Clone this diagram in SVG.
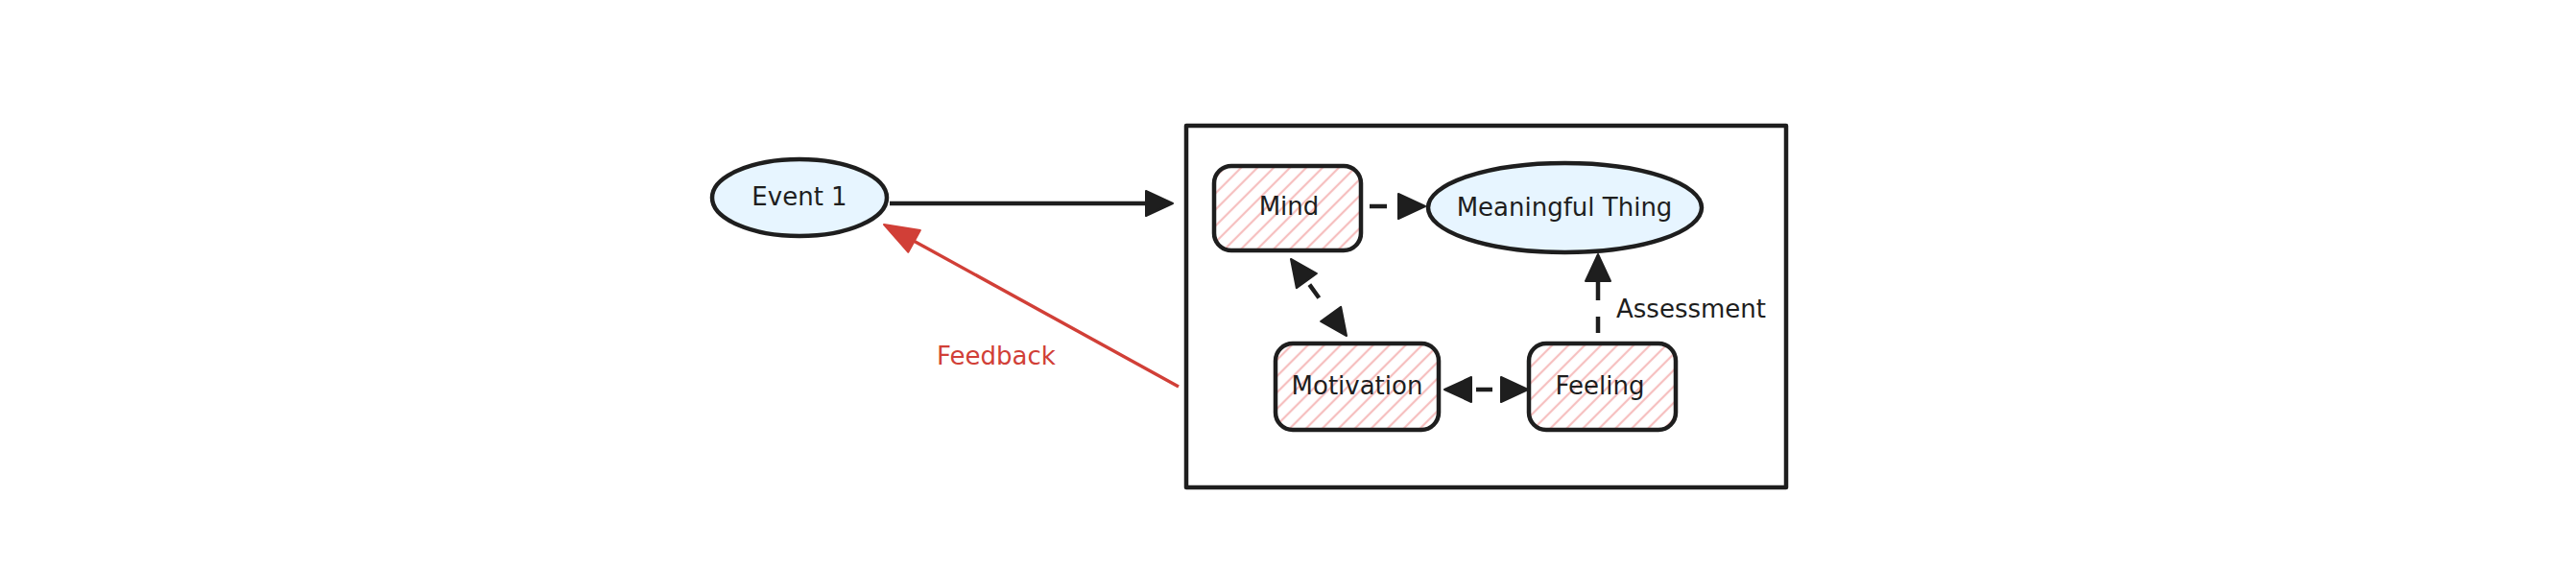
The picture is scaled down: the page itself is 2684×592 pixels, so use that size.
<svg xmlns="http://www.w3.org/2000/svg" width="2684" height="592" viewBox="0 0 2684 592">
  <style>
    .ol { stroke: #1e1e1e; stroke-width: 4.5; stroke-linejoin: round; stroke-linecap: round; }
    .ell { fill: #e7f5ff; }
    .box { fill: url(#hatch); }
    .lbl { font-family: "DejaVu Sans", "Liberation Sans", sans-serif; font-size: 26px; fill: #1e1e1e; text-anchor: middle; }
    .conn { fill: none; stroke: #1e1e1e; stroke-width: 4.5; stroke-linecap: butt; }
    .red { stroke: #d13f37; stroke-width: 3.4; }
  </style>
  <defs>
    <pattern id="hatch" patternUnits="userSpaceOnUse" width="12" height="12" patternTransform="rotate(45)">
      <rect width="12" height="12" fill="#ffffff"/>
      <line x1="6" y1="0" x2="6" y2="12" stroke="#f6bfbf" stroke-width="2.2"/>
    </pattern>
    <marker id="ah" viewBox="0 0 28 26" refX="14" refY="13" markerWidth="28" markerHeight="26" markerUnits="userSpaceOnUse" orient="auto-start-reverse" overflow="visible">
      <path d="M0,0 L28,13 L0,26 Z" fill="#1e1e1e" stroke="#1e1e1e" stroke-width="2" stroke-linejoin="round"/>
    </marker>
    <marker id="ahr" viewBox="0 0 36 26" refX="18" refY="13" markerWidth="36" markerHeight="26" markerUnits="userSpaceOnUse" orient="auto" overflow="visible">
      <path d="M0,0 L36,13 L0,26 Z" fill="#d13f37" stroke="#d13f37" stroke-width="2" stroke-linejoin="round"/>
    </marker>
  </defs>

  <rect width="2684" height="592" fill="#ffffff"/>

  <g id="container">
    <rect x="1236" y="131" width="625" height="377" fill="none" class="ol"/>
  </g>

  <g id="connectors">
    <path class="conn" d="M927,212 L1208,212" marker-end="url(#ah)"/>
    <path class="conn red" d="M1228,403 L936.8,242.7" marker-end="url(#ahr)"/>
    <path class="conn" d="M1427,215 L1471,215" stroke-dasharray="18 100" marker-end="url(#ah)"/>
    <path class="conn" d="M1353.2,281.3 L1394.8,338.7" stroke-dasharray="0 19 17 100" marker-start="url(#ah)" marker-end="url(#ah)"/>
    <path class="conn" d="M1519,406 L1578,406" stroke-dasharray="0 19 17 100" marker-start="url(#ah)" marker-end="url(#ah)"/>
    <path class="conn" d="M1665,347 L1665,279" stroke-dasharray="17 17 100" marker-end="url(#ah)"/>
  </g>

  <g id="event1">
    <ellipse cx="833" cy="206" rx="91" ry="40" class="ol ell"/>
    <text x="833" y="214" class="lbl">Event 1</text>
  </g>

  <g id="mind">
    <rect x="1265" y="173" width="153" height="88" rx="18" class="ol box"/>
    <text x="1343" y="224" class="lbl">Mind</text>
  </g>

  <g id="meaningful-thing">
    <ellipse cx="1630.5" cy="216.5" rx="142.5" ry="46.5" class="ol ell"/>
    <text x="1630" y="225" class="lbl">Meaningful Thing</text>
  </g>

  <g id="motivation">
    <rect x="1329" y="358" width="170" height="90" rx="18" class="ol box"/>
    <text x="1414" y="411" class="lbl">Motivation</text>
  </g>

  <g id="feeling">
    <rect x="1593" y="358" width="153" height="90" rx="18" class="ol box"/>
    <text x="1667" y="411" class="lbl">Feeling</text>
  </g>

  <g id="labels">
    <text x="1762" y="331" class="lbl">Assessment</text>
    <text x="1038" y="380" class="lbl" style="fill:#d13f37">Feedback</text>
  </g>
</svg>
